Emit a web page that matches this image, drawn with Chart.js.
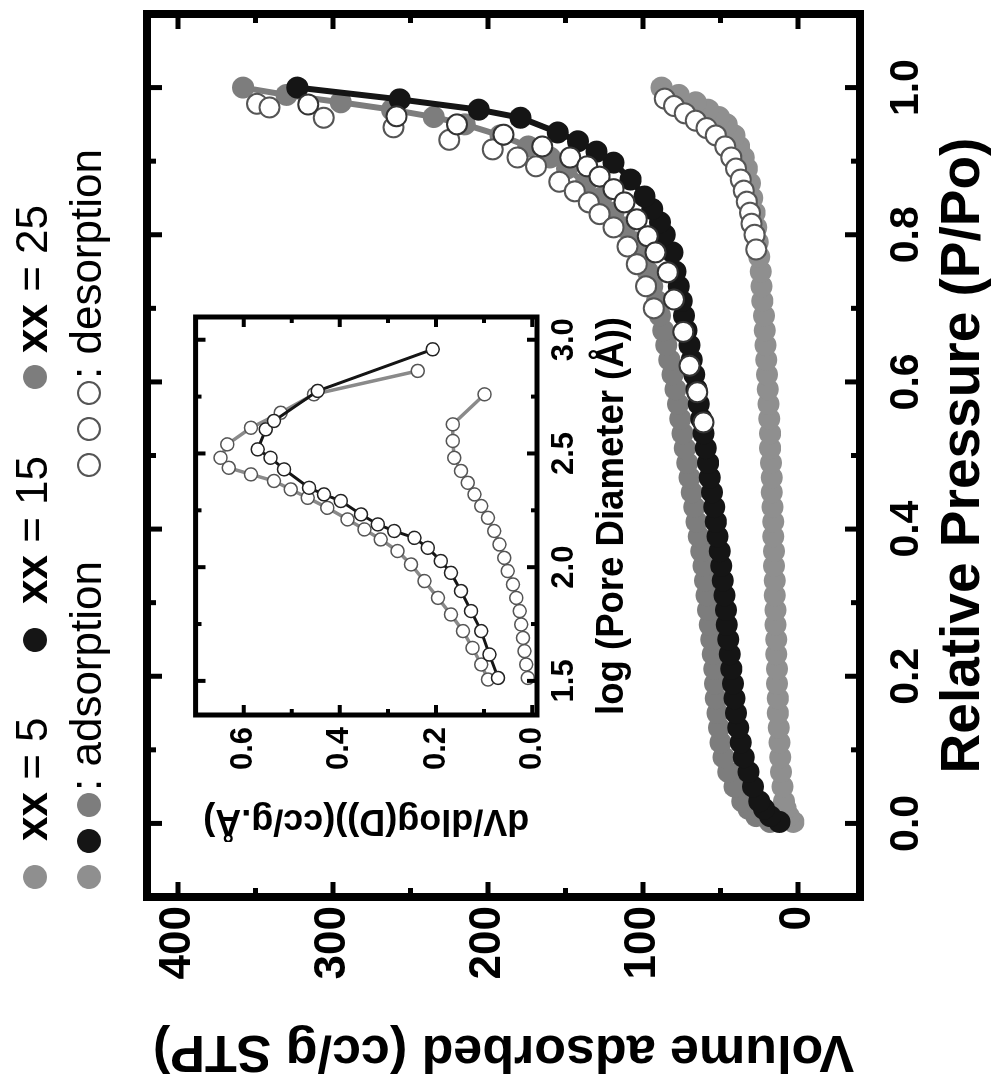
<!DOCTYPE html>
<html>
<head>
<meta charset="utf-8">
<script src="https://cdn.jsdelivr.net/npm/chart.js@4.4.1/dist/chart.umd.min.js"></script>
<style>
  html, body { margin: 0; padding: 0; background: #fff; overflow: hidden; }
  /* the figure is laid out landscape and turned a quarter turn */
  #fig { position: absolute; left: 0; top: 0; width: 1082px; height: 1007px;
         transform-origin: 0 0; transform: translateY(1082px) rotate(-90deg); background: #fff; }
  #main { position: absolute; left: 0; top: 0; }
  #inset { position: absolute; left: 240px; top: 165px; }
  .key { position: absolute; font-family: "Liberation Sans", Arial, sans-serif; font-size: 44px;
         line-height: 44px; white-space: nowrap; color: #000; }
  .dot { display: inline-block; width: 24px; height: 24px; border-radius: 50%; vertical-align: 0;
         box-sizing: border-box; margin-right: 12px; }
  .open { background: #fff; border: 2px solid #555; }
</style>
</head>
<body>
<div id="fig">
  <canvas id="main" width="1082" height="1007"></canvas>
  <canvas id="inset" width="540" height="485"></canvas>

  <div class="key" style="left:193px; top:10px"><i class="dot" style="background:#8f8f8f; margin-right:24px"></i><b>xx</b> = 5</div>
  <div class="key" style="left:430px; top:10px"><i class="dot" style="background:#151515; margin-right:24px"></i><b>xx</b> = 15</div>
  <div class="key" style="left:693px; top:10px"><i class="dot" style="background:#7d7d7d; margin-right:12px"></i><b>xx</b> = 25</div>

  <div class="key" style="left:193px; top:64px"><i class="dot" style="background:#8f8f8f"></i><i class="dot" style="background:#151515"></i><i class="dot" style="background:#7d7d7d; margin-right:2px"></i>: adsorption</div>
  <div class="key" style="left:605px; top:64px"><i class="dot open"></i><i class="dot open"></i><i class="dot open" style="margin-right:2px"></i>: desorption</div>
</div>

<script>
const FONT = '"Liberation Sans", Arial, sans-serif';

// isotherm axes
const pressureTicks = [0, 0.2, 0.4, 0.6, 0.8, 1.0];
const pressureMinor = [0.1, 0.3, 0.5, 0.7, 0.9];
const volumeTicks = [0, 100, 200, 300, 400];
const volumeMinor = [50, 150, 250, 350];

// xx = 5 : adsorption / desorption
const pAds5 = [0.002, 0.01, 0.02, 0.03, 0.05, 0.07, 0.09, 0.11, 0.13, 0.15, 0.17, 0.19, 0.21, 0.23, 0.25, 0.27, 0.29, 0.31, 0.33, 0.35, 0.37, 0.39, 0.41, 0.43, 0.45, 0.47, 0.49, 0.51, 0.53, 0.55, 0.57, 0.59, 0.61, 0.63, 0.65, 0.67, 0.69, 0.71, 0.73, 0.75, 0.77, 0.79, 0.81, 0.83, 0.85, 0.87, 0.89, 0.905, 0.92, 0.935, 0.95, 0.96, 0.97, 0.98, 0.99, 1.0];
const vAds5 = [3, 6, 8, 9, 10, 11, 11.5, 12, 12.5, 13, 13, 13.5, 13.5, 14, 14, 14.5, 14.5, 15, 15, 15.5, 15.5, 16, 16, 16.5, 17, 17, 17.5, 18, 18, 18.5, 19, 19.5, 20, 20.5, 21, 21.5, 22, 23, 23.5, 24, 25, 26, 27, 28, 29.5, 31, 33, 35, 38, 41, 46, 51, 58, 66, 77, 88];
const pDes5 = [0.985, 0.975, 0.965, 0.955, 0.945, 0.935, 0.92, 0.905, 0.89, 0.875, 0.86, 0.845, 0.83, 0.815, 0.80, 0.78];
const vDes5 = [86, 80, 73, 66, 59, 53, 47, 43, 40, 37, 35, 33, 31, 30, 28, 27];

// xx = 15
const pAds15 = [0.002, 0.01, 0.02, 0.03, 0.05, 0.07, 0.09, 0.11, 0.13, 0.15, 0.17, 0.19, 0.21, 0.23, 0.25, 0.27, 0.29, 0.31, 0.33, 0.35, 0.37, 0.39, 0.41, 0.43, 0.45, 0.47, 0.49, 0.51, 0.53, 0.55, 0.57, 0.59, 0.61, 0.63, 0.65, 0.67, 0.69, 0.71, 0.73, 0.75, 0.776, 0.80, 0.817, 0.835, 0.852, 0.875, 0.898, 0.913, 0.927, 0.939, 0.959, 0.97, 0.984, 1.0];
const vAds15 = [12, 18, 22, 25, 29, 32, 35, 37, 38.5, 40, 41, 42, 43, 44, 45, 46, 46.5, 47.5, 48.5, 49.5, 50.5, 52, 53, 54, 55.5, 57, 58, 59.5, 61, 62.5, 64, 65.5, 67, 68.5, 70, 72, 73.5, 75, 77, 79, 81, 86, 89, 94, 99, 108, 119, 130, 142, 155, 179, 206, 257, 323];
const pDes15 = [0.977, 0.961, 0.95, 0.936, 0.92, 0.905, 0.893, 0.879, 0.862, 0.844, 0.821, 0.798, 0.776, 0.749, 0.712, 0.668, 0.622, 0.586, 0.545];
const vDes15 = [316, 259, 220, 190, 165, 147, 136, 128, 119, 112, 104, 97, 92, 84, 80, 74, 70, 65, 61];

// xx = 25
const pAds25 = [0.002, 0.01, 0.02, 0.03, 0.05, 0.07, 0.09, 0.11, 0.13, 0.15, 0.17, 0.19, 0.21, 0.23, 0.25, 0.27, 0.29, 0.31, 0.33, 0.35, 0.37, 0.39, 0.41, 0.43, 0.45, 0.47, 0.49, 0.51, 0.53, 0.55, 0.57, 0.59, 0.61, 0.63, 0.65, 0.67, 0.69, 0.71, 0.73, 0.75, 0.77, 0.79, 0.81, 0.83, 0.85, 0.87, 0.89, 0.905, 0.92, 0.935, 0.95, 0.96, 0.97, 0.98, 0.99, 1.0];
const vAds25 = [18, 27, 32, 36, 41, 45, 48, 50, 51, 52, 53, 53.5, 54, 55, 56, 57, 58, 59, 60, 61, 62.5, 64, 65.5, 67, 68.5, 70, 71.5, 73, 74.5, 76, 77.5, 79, 81, 83, 85, 87, 89, 91, 94, 97, 101, 106, 112, 119, 127, 137, 149, 160, 174, 192, 215, 235, 262, 295, 330, 358];
const pDes25 = [0.978, 0.973, 0.959, 0.946, 0.929, 0.916, 0.905, 0.893, 0.872, 0.859, 0.844, 0.828, 0.81, 0.784, 0.76, 0.73, 0.70];
const vDes25 = [349, 341, 306, 261, 225, 197, 181, 169, 154, 144, 135, 128, 119, 110, 104, 98, 93];

// pore size distribution (inset)
const diameterTicks = [1.5, 2.0, 2.5, 3.0];
const diameterMinor = [1.75, 2.25, 2.75];
const dvTicks = [0.0, 0.2, 0.4, 0.6];
const dvMinor = [0.1, 0.3, 0.5];

const logD5 = [1.513, 1.572, 1.631, 1.689, 1.748, 1.807, 1.865, 1.924, 1.983, 2.041, 2.10, 2.159, 2.217, 2.269, 2.32, 2.371, 2.423, 2.481, 2.555, 2.628, 2.76];
const dv5 = [0.009, 0.0125, 0.016, 0.019, 0.023, 0.026, 0.033, 0.040, 0.051, 0.058, 0.068, 0.079, 0.092, 0.106, 0.12, 0.134, 0.148, 0.162, 0.165, 0.165, 0.099];
const logD15 = [1.513, 1.616, 1.719, 1.807, 1.895, 1.975, 2.027, 2.085, 2.129, 2.159, 2.188, 2.232, 2.291, 2.32, 2.349, 2.43, 2.481, 2.518, 2.606, 2.643, 2.775, 2.958];
const dv15 = [0.071, 0.089, 0.106, 0.127, 0.148, 0.169, 0.19, 0.217, 0.245, 0.287, 0.321, 0.356, 0.398, 0.433, 0.464, 0.516, 0.544, 0.571, 0.554, 0.537, 0.446, 0.207];
const logD25 = [1.506, 1.572, 1.645, 1.719, 1.792, 1.865, 1.939, 2.012, 2.071, 2.122, 2.166, 2.21, 2.261, 2.305, 2.342, 2.379, 2.408, 2.437, 2.481, 2.54, 2.613, 2.679, 2.76, 2.863];
const dv25 = [0.092, 0.106, 0.124, 0.144, 0.169, 0.196, 0.224, 0.252, 0.28, 0.315, 0.349, 0.384, 0.426, 0.467, 0.502, 0.537, 0.585, 0.631, 0.648, 0.634, 0.585, 0.523, 0.454, 0.238];

const GRAY5 = '#8f8f8f', BLACK15 = '#151515', GRAY25 = '#7d7d7d';

const pts = (xs, ys) => xs.map((x, i) => ({ x: x, y: ys[i] }));

// thick box round the plot area with inward ticks on all four sides
const boxPlugin = {
  id: 'box',
  afterDraw(chart, args, opts) {
    const { ctx, chartArea: a, scales: { x, y } } = chart;
    ctx.save();
    ctx.strokeStyle = '#000';
    ctx.lineCap = 'butt';
    ctx.lineWidth = opts.tickWidth;
    const marks = (vals, len) => {
      vals.forEach(v => {
        const px = x.getPixelForValue(v);
        ctx.beginPath();
        ctx.moveTo(px, a.bottom); ctx.lineTo(px, a.bottom - len);
        ctx.moveTo(px, a.top); ctx.lineTo(px, a.top + len);
        ctx.stroke();
      });
    };
    const marksY = (vals, len) => {
      vals.forEach(v => {
        const py = y.getPixelForValue(v);
        ctx.beginPath();
        ctx.moveTo(a.left, py); ctx.lineTo(a.left + len, py);
        ctx.moveTo(a.right, py); ctx.lineTo(a.right - len, py);
        ctx.stroke();
      });
    };
    marks(opts.xMajor, opts.major);
    marks(opts.xMinor, opts.minor);
    marksY(opts.yMajor, opts.major);
    marksY(opts.yMinor, opts.minor);
    ctx.lineWidth = opts.width;
    ctx.strokeRect(a.left, a.top, a.right - a.left, a.bottom - a.top);
    ctx.restore();
  }
};

const isoLine = (label, xs, ys, color, order) => ({
  label: label, data: pts(xs, ys), showLine: true, order: order,
  borderColor: color, borderWidth: 6,
  pointRadius: 11, pointBackgroundColor: color, pointBorderColor: color, pointBorderWidth: 0
});
const isoOpen = (label, xs, ys, edge, order) => ({
  label: label, data: pts(xs, ys), showLine: false, order: order,
  pointRadius: 10, pointBackgroundColor: '#fff', pointBorderColor: edge, pointBorderWidth: 2
});

new Chart(document.getElementById('main'), {
  type: 'scatter',
  data: {
    datasets: [
      isoOpen('xx = 15 desorption', pDes15, vDes15, '#333', 1),
      isoOpen('xx = 25 desorption', pDes25, vDes25, '#555', 1),
      isoOpen('xx = 5 desorption', pDes5, vDes5, '#555', 1),
      isoLine('xx = 15 adsorption', pAds15, vAds15, BLACK15, 2),
      isoLine('xx = 5 adsorption', pAds5, vAds5, GRAY5, 3),
      isoLine('xx = 25 adsorption', pAds25, vAds25, GRAY25, 4)
    ]
  },
  options: {
    responsive: false,
    animation: false,
    layout: { padding: { left: 0, right: 14, top: 147, bottom: 0 } },
    plugins: {
      legend: { display: false },
      tooltip: { enabled: false },
      box: { width: 8, tickWidth: 5, major: 15, minor: 9,
             xMajor: pressureTicks, xMinor: pressureMinor, yMajor: volumeTicks, yMinor: volumeMinor }
    },
    scales: {
      x: {
        type: 'linear', min: -0.1, max: 1.1,
        grid: { display: false, drawTicks: false }, border: { display: false },
        afterBuildTicks: s => { s.ticks = pressureTicks.map(v => ({ value: v })); },
        afterFit: s => { s.height = 147; },
        ticks: { color: '#000', padding: 22, font: { family: FONT, size: 41, weight: 'bold' },
                 callback: v => v.toFixed(1) },
        title: { display: true, text: 'Relative Pressure (P/Po)', color: '#000',
                 font: { family: FONT, size: 55, weight: 'bold' }, padding: { top: 0, bottom: 10 } }
      },
      y: {
        type: 'linear', min: -40, max: 420,
        grid: { display: false, drawTicks: false }, border: { display: false },
        afterBuildTicks: s => { s.ticks = volumeTicks.map(v => ({ value: v })); },
        afterFit: s => { s.width = 185; },
        ticks: { color: '#000', padding: 9, font: { family: FONT, size: 44, weight: 'bold' } },
        title: { display: true, text: 'Volume adsorbed (cc/g STP)', color: '#000',
                 font: { family: FONT, size: 52, weight: 'bold' }, padding: { top: 0, bottom: 0 } }
      }
    }
  },
  plugins: [boxPlugin]
});

const psdLine = (label, xs, ys, color, edge, width, order) => ({
  label: label, data: pts(xs, ys), showLine: true, order: order,
  borderColor: color, borderWidth: width,
  pointRadius: 6.5, pointBackgroundColor: '#fff', pointBorderColor: edge, pointBorderWidth: 1.5
});

new Chart(document.getElementById('inset'), {
  type: 'scatter',
  data: {
    datasets: [
      psdLine('xx = 15', logD15, dv15, BLACK15, '#222', 3, 1),
      psdLine('xx = 25', logD25, dv25, '#8a8a8a', '#555', 3.5, 2),
      psdLine('xx = 5', logD5, dv5, '#8a8a8a', '#555', 3.5, 3)
    ]
  },
  options: {
    responsive: false,
    animation: false,
    layout: { padding: { left: 0, right: 15, top: 30, bottom: 0 } },
    plugins: {
      legend: { display: false },
      tooltip: { enabled: false },
      box: { width: 5, tickWidth: 4, major: 10, minor: 6,
             xMajor: diameterTicks, xMinor: diameterMinor, yMajor: dvTicks, yMinor: dvMinor }
    },
    scales: {
      x: {
        type: 'linear', min: 1.35, max: 3.1,
        grid: { display: false, drawTicks: false }, border: { display: false },
        afterBuildTicks: s => { s.ticks = diameterTicks.map(v => ({ value: v })); },
        afterFit: s => { s.height = 113; },
        ticks: { color: '#000', padding: 9, font: { family: FONT, size: 31, weight: 'bold' },
                 callback: v => v.toFixed(1) },
        title: { display: true, text: 'log (Pore Diameter (Å))', color: '#000',
                 font: { family: FONT, size: 38, weight: 'bold' }, padding: { top: 0, bottom: 15 } }
      },
      y: {
        type: 'linear', min: -0.01, max: 0.7,
        grid: { display: false, drawTicks: false }, border: { display: false },
        afterBuildTicks: s => { s.ticks = dvTicks.map(v => ({ value: v })); },
        afterFit: s => { s.width = 127; },
        ticks: { color: '#000', padding: 12, font: { family: FONT, size: 31, weight: 'bold' },
                 callback: v => v.toFixed(1) },
        title: { display: true, text: 'dV/dlog(D))(cc/g.Å)', color: '#000',
                 font: { family: FONT, size: 36, weight: 'bold' }, padding: { top: 0, bottom: 13 } }
      }
    }
  },
  plugins: [boxPlugin]
});
</script>
</body>
</html>
